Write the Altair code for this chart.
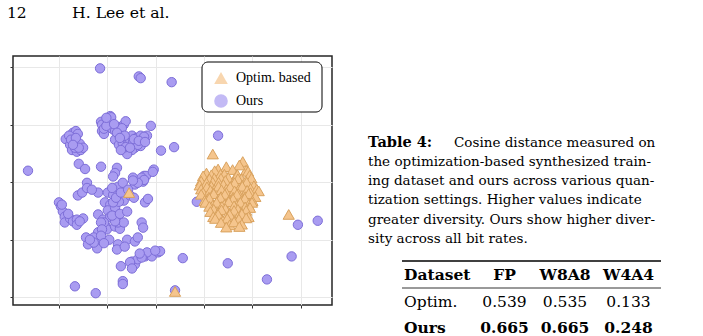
import altair as alt
import pandas as pd

# ---------------- data (t-SNE style embedding) -------------
ours_x = [-21.5, -13.5, -13.1, -6.7, -36.4, 2.9, -6.2, -1.5, 19.4, 23.5, -4.4, 4.9, 18.1, 13.0, -6.0,
          -26.7, -22.4, -16.8, -16.8, -17.2, -11.0, -8.9, -10.4, -21.3,
          -28.6, -27.7, -27.1, -26.5, -26.1, -26.9, -26.1, -27.3, -26.3, -25.5, -25.7, -27.9, -26.7, -25.0,
          -25.9, -24.6, -24.2,
          -21.3, -21.1, -19.9, -19.4, -19.2, -21.1, -20.7, -20.7, -19.0, -18.4, -17.6, -17.2, -16.6, -16.2,
          -17.0, -17.8, -18.4, -17.6, -16.8, -16.6, -15.7, -15.7, -15.3, -14.9, -14.7, -14.3, -14.9, -15.9,
          -13.9, -13.1, -11.8, -13.1, -13.7, -12.4,
          -18.0, -18.4, -18.8, -14.7, -12.4, -12.0, -12.9,
          -21.9, -19.9, -18.8, -17.8, -16.8, -14.3, -12.6, -12.2, -11.6, -20.5, -19.4, -19.9, -18.4, -16.6,
          -21.9, -20.9, -20.5, -20.1, -18.4, -17.4, -17.8, -16.6, -12.9, -12.6, -21.9, -22.1, -22.1, -19.6,
          -17.8, -18.0, -15.9, -14.3, -13.7, -14.9, -14.3, -13.7, -12.2, -11.6, -10.8, -9.5, -15.3,
          -30.0, -29.6, -29.2, -28.8, -28.8, -27.7, -27.1, -26.3, -26.3, -25.0, -26.1, -25.2, -24.2, -23.2,
          -24.4, -24.0, -22.8, -22.8, -23.6, -11.8, -9.1, -12.9, -14.9, -12.4, -13.7, -14.7, -10.6,
          -19.4, -20.7, -18.4, -17.6, -18.8, -21.3, -21.1,
          -20.2, -18.6, -18.0, -16.4, -17.4, -16.2, -15.3, -14.5, -13.5, -12.2, -17.2, -20.2,
          -27.5, -26.5, -25.9, -27.1,
          -19.0, -18.2, -17.2, -15.7, -15.3, -19.0, -17.4, -15.9, -14.5, -21.3, -20.7, -16.4, -13.3, -10.1,
          -28.1, -25.7, -29.4]
ours_y = [19.8, 18.4, 18.1, 17.4, 2.0, 8.1, 6.1, -3.4, -7.4, -6.7, -13.2, -14.1, -12.9, -16.9, -18.8,
          -18.1, -19.3, -17.2, -17.7, -14.6, 9.8, 5.5, 2.2, 2.7,
          7.5, 6.5, 8.6, 8.9, 8.4, 7.2, 6.8, 5.6, 5.3, 5.6, 6.7, 8.1, 6.0, 6.0,
          3.2, 2.3, -0.1,
          10.5, 10.0, 10.6, 11.5, 11.3, 8.9, 8.4, 9.3, 9.3, 8.9, 9.6, 8.7, 10.0, 10.6,
          9.4, 7.5, 7.4, 6.5, 6.7, 5.6, 7.4, 6.7, 7.4, 8.1, 7.0, 6.0, 5.6, 4.9,
          7.7, 8.1, 8.1, 6.3, 6.5, 7.9,
          2.5, 1.6, 1.0, 0.8, 1.1, 1.1, 0.8,
          -1.8, -1.8, -2.2, -0.8, -0.1, -0.4, 0.1, -3.5, -2.9, -3.5, -3.9, -4.9, -4.4, -3.2,
          -5.6, -6.5, -7.4, -8.2, -7.7, -8.1, -7.0, -7.0, -7.0, -7.9, -8.7, -10.5, -11.5, -10.0,
          -10.8, -11.7, -10.0, -10.3, -9.6, -13.8, -14.3, -13.4, -12.9, -12.6, -12.9, -12.2, -13.9,
          -3.5, -4.2, -5.1, -6.0, -7.0, -6.3, -6.8, -6.5, -7.4, -6.3, -2.3, -1.8, -1.0, -1.3,
          -9.6, -10.8, -9.6, -10.5, -10.0, -12.2, -12.0, -13.1, -15.0, 0.4, -0.1, 0.3, 1.8,
          -6.0, -7.0, -6.8, -3.4, -3.5, -7.0, -8.2,
          9.8, 10.1, 8.6, 8.1, 7.7, 6.1, 6.0, 7.5, 7.2, 7.0, 5.6, 11.2,
          7.4, 7.7, 6.0, 6.5,
          -1.0, -2.7, -1.8, -1.3, -2.3, -5.8, -5.5, -5.1, -2.7, -9.3, -10.6, -11.2, -12.4, -11.9,
          -5.5, -6.8, -3.9]

optim_x = [8.0,
           2.9, 4.6, 8.7, 7.3,
           0.5, 2.2, 3.4, 5.9, 6.8, 9.1,
           -0.2, 1.5, 2.1, 4.2, 5.0, 6.9, 7.7, 9.4,
           -0.6, 1.1, 1.8, 3.5, 4.4, 6.1, 7.0, 8.6, 9.8,
           -0.9, 0.5, 1.5, 3.0, 4.0, 5.6, 6.3, 7.9, 8.8, 10.3,
           -0.6, 0.6, 2.1, 3.0, 4.6, 5.4, 7.1, 7.9, 9.6, 10.9,
           -0.2, 1.3, 1.9, 3.6, 4.6, 6.3, 7.1, 8.9, 9.6, 11.3,
           -0.6, 1.0, 2.0, 3.5, 4.3, 6.0, 6.8, 8.5, 9.2, 10.6,
           0.1, 1.1, 2.7, 3.4, 5.1, 6.0, 7.7, 8.4, 10.0,
           0.3, 1.8, 2.6, 4.2, 5.1, 6.7, 7.5, 9.2, 9.9,
           1.1, 2.0, 3.7, 4.4, 6.2, 7.0, 8.5, 9.5,
           1.3, 2.9, 3.6, 5.3, 6.2, 7.8, 8.7,
           1.9, 2.9, 4.5, 5.3, 7.0, 7.8, 9.2,
           2.3, 3.9, 4.8, 6.4, 7.2, 8.7,
           3.5, 5.3, 6.2, 7.8,
           4.6, 7.3,
           1.8, 17.5, -15.5, -6.0]
optim_y = [3.6,
           2.3, 2.7, 2.1, 3.0,
           1.6, 2.0, 1.4, 2.2, 1.3, 1.9,
           1.1, 1.3, 0.7, 1.4, 0.8, 1.3, 0.6, 1.2,
           0.2, 0.6, 0.0, 0.7, 0.3, 0.0, 0.6, 0.2, 0.7,
           -0.5, -0.1, -0.7, 0.0, -0.4, -0.7, -0.1, -0.5, 0.0, -0.6,
           -1.2, -0.8, -1.3, -0.7, -1.2, -0.8, -1.3, -0.7, -1.1, -1.2,
           -1.8, -1.4, -1.9, -1.3, -1.8, -1.5, -2.0, -1.4, -1.8, -1.5,
           -2.1, -2.6, -2.0, -2.5, -2.1, -2.6, -2.1, -2.5, -2.0, -2.5,
           -3.2, -2.8, -3.3, -2.7, -3.2, -2.9, -3.3, -2.8, -3.2,
           -3.5, -4.0, -3.5, -3.9, -3.4, -4.0, -3.5, -3.9, -3.5,
           -4.2, -4.7, -4.2, -4.6, -4.1, -4.7, -4.3, -4.4,
           -5.1, -5.3, -4.8, -5.4, -4.9, -5.3, -4.9,
           -6.0, -5.6, -6.1, -5.6, -6.0, -5.5, -6.0,
           -6.3, -6.7, -6.3, -6.8, -6.4, -6.2,
           -7.0, -7.4, -6.9, -7.3,
           -7.8, -7.7,
           4.9, -5.6, -1.8, -19.0]

groups = ["Optim. based", "Ours"]
x_ticks = [-30, -20, -10, 0, 10, 20]
y_ticks = [-20, -10, 0, 10, 20]

header_page = "12"
header_author = "H. Lee et al."
caption_label = "Table 4:"
caption_lines = [
    "Cosine distance measured on",
    "the optimization-based synthesized train-",
    "ing dataset and ours across various quan-",
    "tization settings. Higher values indicate",
    "greater diversity. Ours show higher diver-",
    "sity across all bit rates.",
]
table_header = ["Dataset", "FP", "W8A8", "W4A4"]
table_names = ["Optim.", "Ours"]
table_fp = [0.539, 0.665]
table_w8a8 = [0.535, 0.665]
table_w4a4 = [0.133, 0.248]

# ---------------- build ---------------------------------------------------------
df_ours = pd.DataFrame({"x": ours_x, "y": ours_y, "group": "Ours"})
df_optim = pd.DataFrame({"x": optim_x, "y": optim_y, "group": "Optim. based"})

W, H = 319, 249
leg = alt.Legend(orient="none", legendX=201, legendY=15, title=None, zindex=5,
                 labelFont="Liberation Serif", labelFontSize=14, labelColor="black",
                 symbolSize=185, symbolStrokeWidth=0, rowPadding=9, labelOffset=8,
                 padding=0, symbolOpacity=0.7)

x_enc = alt.X("x:Q", scale=alt.Scale(domain=[-39.5, 26.45], nice=False, zero=False),
              axis=alt.Axis(values=x_ticks, labels=False, title=None, domain=False,
                            grid=True, ticks=True))
y_enc = alt.Y("y:Q", scale=alt.Scale(domain=[-21.35, 21.95], nice=False, zero=False),
              axis=alt.Axis(values=y_ticks, labels=False, title=None, domain=False,
                            grid=True, ticks=True))
fill_enc = alt.Fill("group:N", scale=alt.Scale(domain=groups, range=["#F5C58D", "#A99CF1"]), legend=leg)
shape_enc = alt.Shape("group:N", scale=alt.Scale(domain=groups, range=["triangle-up", "circle"]), legend=leg)

ours_layer = alt.Chart(df_ours).mark_point(
    filled=True, opacity=1, stroke="#7D6ED8", strokeWidth=1, size=88).encode(
    x=x_enc, y=y_enc, fill=fill_enc, shape=shape_enc)
optim_layer = alt.Chart(df_optim).mark_point(
    filled=True, opacity=1, stroke="#D9A25E", strokeWidth=1, size=125).encode(
    x=x_enc, y=y_enc, fill=fill_enc, shape=shape_enc)

one = alt.Data(values=[{"k": 0}])

legend_box = alt.Chart(one).mark_rect(fill="white", stroke="black", strokeWidth=1, cornerRadius=6).encode(
    x=alt.value(189), x2=alt.value(309), y=alt.value(6), y2=alt.value(56))


def txt(s, x, y, size, weight="normal", font="DejaVu Serif", align="left"):
    return alt.Chart(alt.Data(values=[{"t": s}])).mark_text(
        align=align, baseline="alphabetic", font=font, fontSize=size,
        fontWeight=weight, color="black").encode(
        x=alt.value(x), y=alt.value(y), text="t:N")


layers = [ours_layer, optim_layer, legend_box]
# running header
layers.append(txt(header_page, -6, -38, 15.5))
layers.append(txt(header_author, 59, -38, 15.7))
# caption
cap_x, cap_y0, cap_dy = 355, 90.5, 19.3
layers.append(txt(caption_label, cap_x, cap_y0, 14.5, weight="bold"))
for i, line in enumerate(caption_lines):
    x0 = 441 if i == 0 else cap_x
    layers.append(txt(line, x0, cap_y0 + i * cap_dy, 13.5))
# table
col_x = [391, 491.5, 552, 615.5]
col_align = ["left", "center", "center", "center"]
row_y = [224, 250.7, 276.7]
for j, h in enumerate(table_header):
    layers.append(txt(h, col_x[j], row_y[0], 15.5, weight="bold", align=col_align[j]))
for r in range(2):
    w = "bold" if table_names[r] == "Ours" else "normal"
    vals = [table_names[r], f"{table_fp[r]:.3f}", f"{table_w8a8[r]:.3f}", f"{table_w4a4[r]:.3f}"]
    for j, v in enumerate(vals):
        layers.append(txt(v, col_x[j], row_y[r + 1], 15.5, weight=w, align=col_align[j]))
layers.append(alt.Chart(one).mark_rule(color="black", strokeWidth=1.3).encode(
    x=alt.value(389), x2=alt.value(648), y=alt.value(205)))
layers.append(alt.Chart(one).mark_rule(color="black", strokeWidth=0.8).encode(
    x=alt.value(389), x2=alt.value(648), y=alt.value(232)))

chart = alt.layer(*layers).properties(
    width=W, height=H,
    autosize=alt.AutoSizeParams(type="none"),
    padding={"left": 13, "top": 56, "right": 703 - 13 - W, "bottom": 336 - 56 - H},
    background="white",
).configure_view(
    stroke="#262626", strokeWidth=1.5
).configure_axis(
    gridColor="#e8e8e8", gridWidth=1, tickColor="#333333", tickSize=3, tickWidth=1
)

chart.save("out.html", embed_options={"renderer": "svg", "actions": False})
